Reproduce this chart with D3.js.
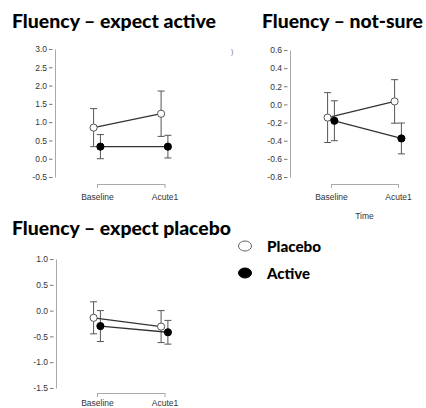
<!DOCTYPE html>
<html>
<head>
<meta charset="utf-8">
<script src="https://cdn.jsdelivr.net/npm/d3@7"></script>
<style>
	body { margin: 0; background: #fff; }
	svg { display: block; }
	.tick text { font-family: "Liberation Sans", Arial, sans-serif; font-size: 8.5px; fill: #333; }
</style>
</head>
<body>
<div id="chart"></div>
<script>
const width = 426,
	height = 408;

// data
const timepoints = ["Baseline", "Acute1"];
const groups = ["Placebo", "Active"];

// expect active
const expActivePlacebo = [0.85, 1.23];
const expActivePlaceboErr = [0.52, 0.62];
const expActiveActive = [0.33, 0.33];
const expActiveActiveErr = [0.33, 0.31];
const expActiveTicks = [3.0, 2.5, 2.0, 1.5, 1.0, 0.5, 0.0, -0.5];

// not sure
const notSurePlacebo = [-0.145, 0.033];
const notSurePlaceboErr = [0.275, 0.24];
const notSureActive = [-0.18, -0.375];
const notSureActiveErr = [0.22, 0.17];
const notSureTicks = [0.6, 0.4, 0.2, 0.0, -0.2, -0.4, -0.6, -0.8];

// expect placebo
const expPlaceboPlacebo = [-0.14, -0.31];
const expPlaceboPlaceboErr = [0.31, 0.31];
const expPlaceboActive = [-0.30, -0.42];
const expPlaceboActiveErr = [0.30, 0.23];
const expPlaceboTicks = [1.0, 0.5, 0.0, -0.5, -1.0, -1.5];

// plain hyphen for negatives, like the source
const fmt = (d) => d3.format(".1f")(d).replace("\u2212", "-");

const panels = [
	{
		title: "Fluency \u2013 expect active",
		titleX: 12, titleY: 28, titleLen: 204,
		axisX: 55, top: 49, bottom: 177, bracketY: 184,
		cats: [97, 164.5],
		ticks: expActiveTicks,
		series: [
			{ mean: expActivePlacebo, err: expActivePlaceboErr, group: "Placebo" },
			{ mean: expActiveActive, err: expActiveActiveErr, group: "Active" },
		],
	},
	{
		title: "Fluency \u2013 not-sure",
		titleX: 262, titleY: 28, titleLen: 161,
		axisX: 290, top: 50, bottom: 177, bracketY: 184,
		cats: [331, 398],
		ticks: notSureTicks,
		series: [
			{ mean: notSurePlacebo, err: notSurePlaceboErr, group: "Placebo" },
			{ mean: notSureActive, err: notSureActiveErr, group: "Active" },
		],
		xTitle: "Time",
	},
	{
		title: "Fluency \u2013 expect placebo",
		titleX: 12, titleY: 235, titleLen: 219,
		axisX: 56, top: 259, bottom: 388, bracketY: 393,
		cats: [97, 164.5],
		ticks: expPlaceboTicks,
		labelPad: 3,
		series: [
			{ mean: expPlaceboPlacebo, err: expPlaceboPlaceboErr, group: "Placebo" },
			{ mean: expPlaceboActive, err: expPlaceboActiveErr, group: "Active" },
		],
	},
];

const dodge = { Placebo: -3.4, Active: 3.4 };

const svg = d3
	.select("#chart")
	.append("svg")
	.attr("width", width)
	.attr("height", height);

const drawPanel = (p) => {
	const g = svg.append("g");

	const y = d3
		.scaleLinear()
		.domain([d3.min(p.ticks), d3.max(p.ticks)])
		.range([p.bottom, p.top]);

	const x = d3.scalePoint().domain(timepoints).range(p.cats);

	// title
	g.append("text")
		.attr("x", p.titleX)
		.attr("y", p.titleY)
		.attr("textLength", p.titleLen)
		.attr("lengthAdjust", "spacingAndGlyphs")
		.style("font-family", "Lato, 'Open Sans', sans-serif")
		.style("font-weight", "900")
		.style("font-size", "18px")
		.attr("fill", "#000")
		.text(p.title);

	// y axis
	const yAxis = g
		.append("g")
		.attr("transform", `translate(${p.axisX},0)`)
		.call(
			d3.axisLeft(y).tickValues(p.ticks).tickFormat(fmt).tickSize(0).tickPadding(8)
		);
	yAxis.select(".domain").attr("stroke", "#aaa");
	yAxis
		.selectAll(".tick")
		.append("line")
		.attr("x1", -6)
		.attr("x2", -2.5)
		.attr("stroke", "#777");

	// x bracket
	const xAxis = g
		.append("g")
		.attr("transform", `translate(0,${p.bracketY})`)
		.call(
			d3.axisBottom(x).tickSizeInner(4).tickSizeOuter(0).tickPadding(p.labelPad || 6)
		);
	xAxis.select(".domain").attr("stroke", "#aaa");
	xAxis.selectAll(".tick line").attr("stroke", "#aaa");

	if (p.xTitle) {
		g.append("text")
			.attr("x", (p.cats[0] + p.cats[1]) / 2)
			.attr("y", p.bracketY + 35)
			.attr("text-anchor", "middle")
			.style("font-family", "'Liberation Sans', Arial, sans-serif")
			.style("font-size", "8.5px")
			.attr("fill", "#333")
			.text(p.xTitle);
	}

	p.series.forEach((s) => {
		const pts = timepoints.map((t, i) => ({
			x: x(t) + dodge[s.group],
			mean: s.mean[i],
			err: s.err[i],
		}));

		// error bars
		const eb = g.append("g").attr("stroke", "#555").attr("stroke-width", 1);
		eb.selectAll("line.v")
			.data(pts)
			.join("line")
			.attr("class", "v")
			.attr("x1", (d) => d.x)
			.attr("x2", (d) => d.x)
			.attr("y1", (d) => y(d.mean - d.err))
			.attr("y2", (d) => y(d.mean + d.err));
		eb.selectAll("line.lo")
			.data(pts)
			.join("line")
			.attr("class", "lo")
			.attr("x1", (d) => d.x - 3.5)
			.attr("x2", (d) => d.x + 3.5)
			.attr("y1", (d) => y(d.mean - d.err))
			.attr("y2", (d) => y(d.mean - d.err));
		eb.selectAll("line.hi")
			.data(pts)
			.join("line")
			.attr("class", "hi")
			.attr("x1", (d) => d.x - 3.5)
			.attr("x2", (d) => d.x + 3.5)
			.attr("y1", (d) => y(d.mean + d.err))
			.attr("y2", (d) => y(d.mean + d.err));

		// mean line
		g.append("path")
			.datum(pts)
			.attr("fill", "none")
			.attr("stroke", "#333")
			.attr("stroke-width", 1.3)
			.attr(
				"d",
				d3.line().x((d) => d.x).y((d) => y(d.mean))
			);
		s.pts = pts;
	});

	// points on top
	p.series.forEach((s) => {
		g.append("g")
			.selectAll("circle")
			.data(s.pts)
			.join("circle")
			.attr("cx", (d) => d.x)
			.attr("cy", (d) => y(d.mean))
			.attr("r", 3.6)
			.attr("fill", s.group === "Placebo" ? "#fff" : "#000")
			.attr("stroke", s.group === "Placebo" ? "#555" : "#000")
			.attr("stroke-width", 1);
	});
};

panels.forEach(drawPanel);

// stray mark in the source picture
svg.append("text")
	.attr("x", 231)
	.attr("y", 54)
	.style("font-family", "'Liberation Sans', Arial, sans-serif")
	.style("font-size", "7px")
	.attr("fill", "#777")
	.text(")");

// legend
const legend = svg
	.append("g")
	.selectAll("g")
	.data(groups)
	.join("g")
	.attr("transform", (d, i) => `translate(245,${246 + i * 27})`);

legend
	.append("ellipse")
	.attr("rx", 6.5)
	.attr("ry", 5)
	.attr("fill", (d) => (d === "Placebo" ? "#fff" : "#000"))
	.attr("stroke", (d) => (d === "Placebo" ? "#666" : "#000"))
	.attr("stroke-width", 1);

legend
	.append("text")
	.attr("x", 22)
	.attr("y", 6)
	.attr("textLength", (d) => (d === "Placebo" ? 54 : 43))
	.attr("lengthAdjust", "spacingAndGlyphs")
	.style("font-family", "Lato, 'Open Sans', sans-serif")
	.style("font-weight", "900")
	.style("font-size", "15px")
	.text((d) => d);
</script>
</body>
</html>
